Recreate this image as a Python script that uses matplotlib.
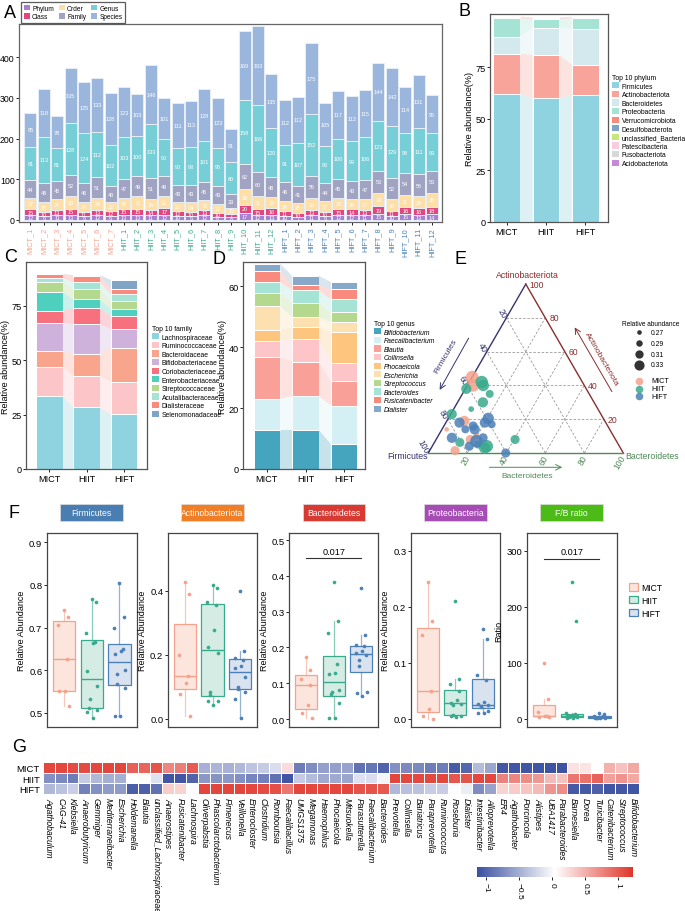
import numpy as np
import matplotlib
matplotlib.use('Agg')
import matplotlib.pyplot as plt
from matplotlib.patches import Patch, Rectangle
from matplotlib.colors import LinearSegmentedColormap, Normalize
from matplotlib.cm import ScalarMappable
from matplotlib.ticker import FormatStrFormatter

plt.rcParams['font.family'] = ['Liberation Sans', 'DejaVu Sans']
plt.rcParams['axes.linewidth'] = 0.8
plt.rcParams['xtick.major.width'] = 0.6
plt.rcParams['ytick.major.width'] = 0.6
plt.rcParams['xtick.major.size'] = 2
plt.rcParams['ytick.major.size'] = 2
plt.rcParams['xtick.major.pad'] = 1.5
plt.rcParams['ytick.major.pad'] = 1.2

W, H = 685, 912

def rect(x0, y0, x1, y1):
    return [x0 / W, 1 - y1 / H, (x1 - x0) / W, (y1 - y0) / H]

groups = ['MICT', 'HIIT', 'HIFT']
grp_cols = ['#F4A28C', '#3AAA8C', '#4B80B8']
grp_fill = ['#FCE5DD', '#D5ECE5', '#D9E3F0']

# ---------------- A: taxa counts per sample ----------------
samples = ['MICT_1', 'MICT_2', 'MICT_3', 'MICT_4', 'MICT_5', 'MICT_6', 'MICT_7',
           'HIIT_1', 'HIIT_2', 'HIIT_3', 'HIIT_4', 'HIIT_5', 'HIIT_6', 'HIIT_7', 'HIIT_8',
           'HIIT_9', 'HIIT_10', 'HIIT_11', 'HIIT_12',
           'HIFT_1', 'HIFT_2', 'HIFT_3', 'HIFT_4', 'HIFT_5', 'HIFT_6', 'HIFT_7', 'HIFT_8',
           'HIFT_9', 'HIFT_10', 'HIFT_11', 'HIFT_12']
levels = ['Phylum', 'Class', 'Order', 'Family', 'Genus', 'Species']
phylum_n = [12, 9, 11, 13, 9, 12, 9, 13, 13, 11, 12, 10, 9, 12, 8, 8, 17, 12, 13,
            10, 7, 11, 9, 12, 12, 11, 15, 10, 15, 13, 14]
class_n = [15, 10, 13, 15, 11, 13, 12, 15, 15, 14, 17, 12, 10, 13, 10, 7, 20, 15, 16,
           11, 10, 13, 10, 15, 14, 13, 19, 11, 16, 16, 18]
order_n = [27, 25, 27, 30, 24, 29, 22, 26, 30, 26, 30, 22, 24, 23, 22, 15, 38, 31, 28,
           26, 25, 30, 27, 28, 26, 27, 33, 30, 31, 29, 35]
family_n = [44, 48, 45, 52, 46, 51, 40, 47, 49, 51, 49, 43, 43, 45, 43, 33, 62, 60, 48,
            46, 41, 55, 44, 45, 43, 47, 53, 52, 54, 56, 53]
genus_n = [81, 113, 81, 128, 124, 112, 102, 103, 100, 133, 90, 90, 93, 101, 95, 80, 158, 166, 120,
           91, 107, 152, 93, 100, 99, 106, 123, 129, 98, 111, 93]
species_n = [85, 118, 78, 135, 125, 133, 128, 123, 103, 146, 101, 111, 113, 128, 123, 81, 169, 193, 135,
             112, 112, 175, 105, 117, 112, 115, 144, 142, 114, 131, 95]
level_cols = ['#A97FD3', '#E2467E', '#FDDFA7', '#A0A3C2', '#76CFD6', '#9BB6DD']

# ---------------- B: phylum ----------------
phyla = ['Firmicutes', 'Actinobacteriota', 'Bacteroidetes', 'Proteobacteria', 'Verrucomicrobiota',
         'Desulfobacterota', 'unclassified_Bacteria', 'Patescibacteria', 'Fusobacteriota', 'Acidobacteriota']
phy_mict = [62.3, 19.4, 8.3, 8.9, 0.4, 0.2, 0.1, 0.1, 0.05, 0.02]
phy_hiit = [59.9, 21.2, 13.2, 4.1, 0.5, 0.2, 0.1, 0.1, 0.05, 0.02]
phy_hift = [61.7, 14.7, 17.5, 5.0, 0.2, 0.3, 0.1, 0.1, 0.05, 0.02]
phy_cols = ['#8FD3E0', '#F9A49A', '#D3E9EE', '#A5E3D5', '#F98A7E', '#7FA5C6', '#C8E67C',
            '#F9CDE0', '#D8D8D8', '#C48AD6']

# ---------------- C: family ----------------
families = ['Lachnospiraceae', 'Ruminococcaceae', 'Bacteroidaceae', 'Bifidobacteriaceae', 'Coriobacteriaceae',
            'Enterobacteriaceae', 'Streptococcaceae', 'Acutalibacteraceae', 'Dialisteraceae', 'Selenomonadaceae']
fam_mict = [33.4, 13.6, 7.0, 13.2, 5.5, 8.7, 4.6, 1.6, 1.9, 0.1]
fam_hiit = [28.3, 14.3, 10.4, 13.4, 7.4, 4.0, 4.6, 3.3, 3.1, 0.1]
fam_hift = [25.1, 15.0, 15.6, 8.6, 5.8, 3.4, 3.6, 3.1, 2.5, 4.1]
fam_cols = ['#8FD3E0', '#FCC5C8', '#F9A48C', '#CFB2DC', '#F7707E', '#4FCFBE', '#B5D88F',
            '#A5E3D5', '#F98A7E', '#7FA5C6']

# ---------------- D: genus ----------------
genera = ['Bifidobacterium', 'Faecalibacterium', 'Blautia', 'Collinsella', 'Phocaeicola',
          'Escherichia', 'Streptococcus', 'Bacteroides', 'Fusicatenibacter', 'Dialister']
gen_mict = [12.8, 10.2, 13.7, 5.5, 3.6, 7.7, 4.4, 3.5, 3.8, 2.2]
gen_hiit = [12.8, 11.1, 11.4, 7.5, 3.7, 3.4, 4.6, 4.2, 1.6, 3.1]
gen_hift = [8.2, 12.6, 8.0, 5.9, 10.4, 3.1, 3.3, 4.2, 3.3, 2.5]
gen_cols = ['#45A5BF', '#D4F0F5', '#F9A099', '#FDC5C8', '#FDC57E', '#FDE0B0', '#B5D88F',
            '#A5E3D5', '#F98A7E', '#86A9C9']

# ---------------- E: ternary (Actinobacteriota %, Bacteroidetes %) ----------------
tern_mict_a = [45, 40, 19, 8, 10, 1.4, 14]
tern_mict_b = [0, 3, 9, 17.5, 19.5, 13, 2.4]
tern_mict_s = [0.33, 0.33, 0.31, 0.30, 0.27, 0.30, 0.26]
tern_hiit_a = [42, 40, 38, 30, 26, 4, 3, 8, 23, 6.3, 35, 5]
tern_hiit_b = [6.4, 8.2, 0.5, 13, 9, 28, 27.4, 40.5, 0.5, 13, 14, 23]
tern_hiit_s = [0.33, 0.32, 0.31, 0.31, 0.27, 0.33, 0.32, 0.30, 0.31, 0.30, 0.29, 0.29]
tern_hift_a = [20.5, 18, 14, 16, 9, 7, 0, 18, 9, 14, 17, 4]
tern_hift_b = [20.5, 20, 16.8, 15, 23.6, 21.2, 39.7, 7, 7.6, 12, 24, 19]
tern_hift_s = [0.32, 0.31, 0.31, 0.30, 0.30, 0.33, 0.30, 0.31, 0.31, 0.29, 0.29, 0.30]

# ---------------- F: boxplots ----------------
firm = [[0.74, 0.725, 0.705, 0.627, 0.55, 0.55, 0.517],
        [0.767, 0.76, 0.687, 0.665, 0.663, 0.597, 0.563, 0.533, 0.512, 0.507, 0.503, 0.487],
        [0.805, 0.725, 0.70, 0.65, 0.645, 0.638, 0.60, 0.59, 0.568, 0.557, 0.493, 0.493]]
actino = [[0.426, 0.39, 0.20, 0.135, 0.112, 0.078, 0.008],
          [0.418, 0.407, 0.364, 0.355, 0.277, 0.225, 0.207, 0.085, 0.075, 0.057, 0.056, 0.042],
          [0.40, 0.213, 0.19, 0.185, 0.165, 0.16, 0.13, 0.10, 0.095, 0.085, 0.063, 0.003]]
bacter = [[0.173, 0.136, 0.112, 0.095, 0.039, 0.016, 0.003],
          [0.383, 0.273, 0.24, 0.155, 0.128, 0.125, 0.08, 0.075, 0.07, 0.045, 0.003, 0.003],
          [0.367, 0.234, 0.206, 0.203, 0.189, 0.185, 0.178, 0.164, 0.148, 0.077, 0.072, 0.064]]
proteo = [[0.244, 0.175, 0.15, 0.0505, 0.018, 0.005, 0.0],
          [0.211, 0.071, 0.062, 0.049, 0.034, 0.029, 0.027, 0.024, 0.007, 0.006, 0.005, 0.004],
          [0.16, 0.143, 0.078, 0.07, 0.030, 0.026, 0.024, 0.023, 0.021, 0.014, 0.011, 0.010]]
fb_ratio = [[100, 36, 12, 6, 5, 4, 3],
            [245, 174, 10, 8, 7, 6, 5, 5, 4, 3, 2, 1],
            [10, 8, 6, 5, 4, 3, 3, 2, 2, 2, 1, 1]]

# ---------------- G: heatmap ----------------
hm_genera = ['Agathobaculum', 'CAG-41', 'Klebsiella', 'Anaerobutyricum', 'Gemmiger', 'Mediterraneibacter',
             'Escherichia', 'Holdemanella', 'Blautia', 'unclassified_Lachnospiraceae', 'Anaerostipes',
             'Fusicatenibacter', 'Lachnospira', 'Oliverpabstia', 'Phascolarctobacterium', 'Fimenecus',
             'Veillonella', 'Enterocloster', 'Clostridium', 'Romboutsia', 'Faecalibacillus', 'UMGS1375',
             'Megamonas', 'Haemophilus', 'Phocaeicola', 'Mitsuokella', 'Parasutterella', 'Faecalibacterium',
             'Bacteroides', 'Prevotella', 'Collinsella', 'Bariatricus', 'Paraprevotella', 'Ruminococcus',
             'Roseburia', 'Dialister', 'Intestinibacter', 'Alloprevotella', 'ER4', 'Agathobacter',
             'Porcincola', 'Alistipes', 'UBA1417', 'Parabacteroides', 'Barnesiella', 'Dorea',
             'Turicibacter', 'Catenibacterium', 'Streptococcus', 'Bifidobacterium']
hm_mict = [1.12, 1.12, 1.10, 1.10, 1.12, 1.13, 1.13, 0.98, 0.95, 1.05, 0.75, 0.80, 1.00,
           -0.48, -0.45, -0.48, -0.43, -0.35, -0.30, -0.18, 0.25, -0.83, -0.72, -0.60, -0.60,
           -0.58, -0.90, -0.88, -1.00, -0.70, -0.75, -0.75, -0.83, -0.83, -1.05, -0.98, -0.40,
           -0.55, -1.08, -1.10, -1.10, -1.10, -1.12, -1.12, 0.22, 0.20, 0.05, 0.50, 0.40, 0.55]
hm_hiit = [-0.70, -0.75, -0.83, -0.30, -0.42, -0.50, -0.50, 0.05, 0.07, -0.15, -1.10, -1.10, -1.00,
           -0.65, -0.68, -0.65, -0.70, -0.77, -0.80, -0.90, -1.10, -0.30, -0.40, -0.52, -0.52,
           -0.55, -0.15, -0.18, -0.02, 1.13, 1.13, 1.12, 1.12, 1.12, 1.03, 1.05, 1.13,
           1.12, 0.78, 0.75, 0.72, 0.65, 0.45, 0.40, 0.85, 0.87, 0.97, 0.60, 0.68, 0.55]
hm_hift = [-0.42, -0.37, -0.27, -0.80, -0.70, -0.63, -0.63, -1.03, -1.02, -0.90, 0.35, 0.30, 0.02,
           1.13, 1.13, 1.13, 1.13, 1.12, 1.10, 1.08, 0.85, 1.13, 1.12, 1.12, 1.12,
           1.13, 1.05, 1.06, 1.02, -0.43, -0.38, -0.37, -0.29, -0.29, 0.02, -0.07, -0.73,
           -0.57, 0.30, 0.35, 0.38, 0.45, 0.67, 0.72, -1.07, -1.07, -1.02, -1.10, -1.08, -1.10]

fig = plt.figure(figsize=(W / 100, H / 100), dpi=100)

def letter(x, y, s):
    fig.text(x / W, 1 - y / H, s, fontsize=13, va='center', ha='left')

def frame(ax, col='#555555'):
    for sp in ax.spines.values():
        sp.set_color(col)
        sp.set_linewidth(0.9)

# ===== A =====
axA = fig.add_axes(rect(19, 25, 442, 223))
xa = np.arange(len(samples))
bottom = np.zeros(len(samples))
for vals, col in zip([phylum_n, class_n, order_n, family_n, genus_n, species_n], level_cols):
    vals = np.array(vals, dtype=float)
    axA.bar(xa, vals, bottom=bottom, width=0.9, color=col, edgecolor='#E6EDF5', linewidth=0.7)
    for x, v, b in zip(xa, vals, bottom):
        axA.text(x, b + v / 2, '%d' % v, ha='center', va='center', fontsize=4.0, color='white')
    bottom += vals
axA.set_xlim(-0.85, 30.75)
axA.set_ylim(-5, 482)
axA.set_yticks([0, 100, 200, 300, 400])
axA.tick_params(axis='y', labelsize=6.3)
axA.set_xticks(xa)
axA.set_xticklabels(samples, rotation=90, fontsize=5.3)
for lab in axA.get_xticklabels():
    lab.set_color(grp_cols[groups.index(lab.get_text().split('_')[0])])
frame(axA, '#666666')
lgA = fig.legend([Patch(facecolor=c) for c in level_cols], levels, ncol=3, loc='upper left',
                 bbox_to_anchor=(18 / W, 1.0), fontsize=4.7, handlelength=0.9, handleheight=0.9,
                 columnspacing=0.8, handletextpad=0.35, borderpad=0.4, labelspacing=0.2,
                 fancybox=False, edgecolor='#333333')
lgA.get_frame().set_linewidth(0.9)
letter(4, 13, 'A')

# ===== alluvial stacked bars (B, C, D) =====
def alluvial(ax, data, colors, width):
    data = np.array(data, dtype=float).T  # layers x groups
    cum = np.vstack([np.zeros(data.shape[1]), np.cumsum(data, axis=0)])
    xs = np.arange(data.shape[1])
    for k in range(data.shape[0]):
        ax.bar(xs, data[k], bottom=cum[k], width=width, color=colors[k], edgecolor='white', linewidth=0.7)
        for i in range(len(xs) - 1):
            px = [i + width / 2, i + 1 - width / 2, i + 1 - width / 2, i + width / 2]
            py = [cum[k, i], cum[k, i + 1], cum[k + 1, i + 1], cum[k + 1, i]]
            ax.fill(px, py, color=colors[k], alpha=0.3, linewidth=0)
    ax.set_xticks(xs)
    ax.set_xticklabels(groups, fontsize=6.6)
    ax.tick_params(axis='y', labelsize=6.6)
    ax.set_ylabel('Relative abundance(%)', fontsize=6.5, labelpad=0.8)
    frame(ax)

def side_legend(labels, colors, title, x, y, italic=False):
    lg = fig.legend([Patch(facecolor=c) for c in colors], labels, title=title, loc='upper left',
                    bbox_to_anchor=(x / W, 1 - y / H), frameon=False, fontsize=4.9, title_fontsize=4.9,
                    handlelength=1.0, handleheight=1.0, handletextpad=0.4, labelspacing=0.18,
                    borderpad=0, borderaxespad=0)
    lg._legend_box.align = 'left'
    if italic:
        for t in lg.get_texts():
            t.set_style('italic')

axB = fig.add_axes(rect(490, 15, 608, 223))
alluvial(axB, [phy_mict, phy_hiit, phy_hift], phy_cols, 0.68)
axB.set_xlim(-0.425, 2.578)
axB.set_ylim(-0.2, 101)
axB.set_yticks([0, 25, 50, 75])
side_legend(phyla, phy_cols, 'Top 10 phylum', 612, 75)
letter(458, 12, 'B')

axC = fig.add_axes(rect(26, 263, 147, 470))
alluvial(axC, [fam_mict, fam_hiit, fam_hift], fam_cols, 0.71)
axC.set_xlim(-0.62, 2.61)
axC.set_ylim(0, 95)
axC.set_yticks([0, 25, 50, 75])
side_legend(families, fam_cols, 'Top 10 family', 152, 326)
letter(4, 258, 'C')

axD = fig.add_axes(rect(243, 263, 365, 470))
alluvial(axD, [gen_mict, gen_hiit, gen_hift], gen_cols, 0.69)
axD.set_xlim(-0.62, 2.54)
axD.set_ylim(0, 68)
axD.set_yticks([0, 20, 40, 60])
side_legend(genera, gen_cols, 'Top 10 genus', 374, 321, italic=True)
letter(213, 260, 'D')

# ===== E: ternary =====
axE = fig.add_axes(rect(395, 265, 685, 490))
axE.set_xlim((395 - 428.3) / 195, (685 - 428.3) / 195)
axE.set_ylim((454 - 490) / 195, (454 - 265) / 195)
axE.set_aspect('equal')
axE.axis('off')
hh = np.sqrt(3) / 2
navy, maroon, green = '#35346F', '#8A2E2E', '#4F8A57'

def tern(a, b):
    a = np.asarray(a, dtype=float)
    b = np.asarray(b, dtype=float)
    return b + a / 2, a * hh

for v in [0.2, 0.4, 0.6, 0.8]:
    for (a0, b0), (a1, b1) in [((v, 0), (v, 1 - v)), ((0, v), (1 - v, v)), ((0, 1 - v), (1 - v, 0))]:
        p0, p1 = tern(a0, b0), tern(a1, b1)
        axE.plot([p0[0], p1[0]], [p0[1], p1[1]], color='#9A9A9A', lw=0.6, ls=(0, (3, 2)))
axE.plot([0, 0.5], [0, hh], color=navy, lw=1.0)
axE.plot([0.5, 1], [hh, 0], color=maroon, lw=1.0)
axE.plot([0, 1], [0, 0], color=green, lw=1.0)

for v in [20, 40, 60, 80, 100]:
    f = v / 100
    # Actinobacteriota ticks on right edge
    x, y = tern(f, 1 - f)
    axE.text(x + 0.02, y, str(v), color=maroon, fontsize=6.2, ha='left', va='center')
    # Firmicutes ticks on left edge
    x, y = tern(1 - f, 0)
    axE.text(x - 0.01, y + 0.005, str(v), color=navy, fontsize=6.2, ha='right', va='center',
             rotation=-60, rotation_mode='anchor')
    # Bacteroidetes ticks on bottom
    x, y = tern(0, f)
    axE.text(x + 0.003, y - 0.012, str(v), color=green, fontsize=6.2, ha='right', va='center',
             rotation=60, rotation_mode='anchor')

def ep(px, py):
    return (px - 428.3) / 195, (454 - py) / 195

axE.text(*ep(527, 276), 'Actinobacteriota', color=maroon, fontsize=6.3, ha='center', va='center')
axE.text(*ep(408, 457), 'Firmicutes', color=navy, fontsize=6.3, ha='center', va='center')
axE.text(*ep(652, 457), 'Bacteroidetes', color=green, fontsize=6.3, ha='center', va='center')
axE.annotate('', xy=ep(438.3, 393.3), xytext=ep(470, 336.7),
             arrowprops=dict(arrowstyle='->', color=navy, lw=0.7))
axE.text(*ep(446, 357), 'Firmicutes', color=navy, fontsize=6, ha='center', va='center', rotation=60)
axE.annotate('', xy=ep(573.3, 326), xytext=ep(613.3, 395),
             arrowprops=dict(arrowstyle='->', color=maroon, lw=0.7))
axE.text(*ep(601, 360), 'Actinobacteriota', color=maroon, fontsize=6, ha='center', va='center', rotation=-60)
axE.annotate('', xy=ep(565, 468.3), xytext=ep(486.7, 468.3),
             arrowprops=dict(arrowstyle='->', color=green, lw=0.7))
axE.text(*ep(526.7, 476.5), 'Bacteroidetes', color=green, fontsize=6, ha='center', va='center')

def msize(s):
    d = 5 + (np.asarray(s) - 0.27) / 0.06 * 6
    return (d * 0.72) ** 2

for a, b, s, col in [(tern_mict_a, tern_mict_b, tern_mict_s, grp_cols[0]),
                     (tern_hiit_a, tern_hiit_b, tern_hiit_s, grp_cols[1]),
                     (tern_hift_a, tern_hift_b, tern_hift_s, grp_cols[2])]:
    x, y = tern(np.array(a) / 100, np.array(b) / 100)
    axE.scatter(x, y, s=msize(s) * 1.3, color=col, alpha=0.85, linewidths=0, zorder=3)

axE.text(*ep(622, 325), 'Relative abundance', fontsize=4.7, ha='left', va='center')
for sv, py in zip([0.27, 0.29, 0.31, 0.33], [333.3, 344.3, 355.3, 366]):
    axE.scatter(*ep(639, py), s=msize(sv) * 0.85, color='#333333', linewidths=0)
    axE.text(*ep(651, py), '%.2f' % sv, fontsize=4.9, ha='left', va='center')
for g, col, py in zip(groups, grp_cols, [381.7, 389.5, 397.3]):
    axE.scatter(*ep(639, py), s=30, color=col, alpha=0.85, linewidths=0)
    axE.text(*ep(651, py), g, fontsize=5.2, ha='left', va='center')
letter(455, 260, 'E')

# ===== F: boxplots =====
f_x = [(46.7, 136.7), (167.7, 257.3), (289.3, 378.3), (410.7, 500), (526.7, 616.7)]
f_titles = ['Firmicutes', 'Actinobacteriota', 'Bacteroidetes', 'Proteobacteria', 'F/B ratio']
f_head = ['#4A7DB2', '#F07E26', '#D63A33', '#A54DB5', '#4CBB17']
f_data = [firm, actino, bacter, proteo, fb_ratio]
f_ylim = [(0.466, 0.921), (-0.026, 0.579), (-0.023, 0.519), (-0.015, 0.331), (-15, 331)]
f_ticks = [[0.5, 0.6, 0.7, 0.8, 0.9], [0.0, 0.2, 0.4], [0.0, 0.1, 0.2, 0.3, 0.4, 0.5],
           [0.0, 0.1, 0.2, 0.3], [0, 100, 200, 300]]
f_ylab = ['Relative Abundance'] * 4 + ['Ratio']

for i, (x0, x1) in enumerate(f_x):
    ax = fig.add_axes(rect(x0, 534.3, x1, 728.3))
    bp = ax.boxplot(f_data[i], positions=[0, 1, 2], widths=0.8, patch_artist=True,
                    showfliers=False, showcaps=False)
    for j in range(3):
        bp['boxes'][j].set(facecolor=grp_fill[j], edgecolor=grp_cols[j], linewidth=0.9)
        bp['medians'][j].set(color=grp_cols[j], linewidth=1.0)
        for w in bp['whiskers'][2 * j:2 * j + 2]:
            w.set(color=grp_cols[j], linewidth=0.9, alpha=0.6)
        vals = np.array(f_data[i][j])
        jit = 0.2 * np.sin(np.arange(len(vals)) * 2.3)
        ax.scatter(j + jit, vals, s=7, color=grp_cols[j], zorder=3, linewidths=0)
    ax.set_xlim(-0.62, 2.62)
    ax.set_ylim(*f_ylim[i])
    ax.set_yticks(f_ticks[i])
    ax.yaxis.set_major_formatter(FormatStrFormatter('%d' if i == 4 else '%.1f'))
    ax.set_xticks([])
    ax.tick_params(axis='y', labelsize=6.8)
    ax.set_ylabel(f_ylab[i], fontsize=6.5, labelpad=2)
    frame(ax, '#444444')
    if i == 2:
        ax.plot([0, 2], [0.449, 0.449], color='#333333', lw=0.8)
        ax.text(1, 0.456, '0.017', ha='center', va='bottom', fontsize=6.6)
    if i == 4:
        ax.plot([0, 2], [285, 285], color='#333333', lw=0.8)
        ax.text(1, 291, '0.017', ha='center', va='bottom', fontsize=6.6)
    cx = (x0 + x1) / 2
    fig.add_artist(Rectangle(((cx - 31.3) / W, 1 - 521.7 / H), 62.6 / W, 16.7 / H,
                             transform=fig.transFigure, facecolor=f_head[i], edgecolor='#DDDDDD', lw=0.5))
    fig.text(cx / W, 1 - 513.3 / H, f_titles[i], color='white', fontsize=6.2, ha='center', va='center')

fig.legend([Patch(facecolor=grp_fill[j], edgecolor=grp_cols[j], linewidth=0.9) for j in range(3)], groups,
           loc='upper left', bbox_to_anchor=(629 / W, 1 - 584 / H), frameon=False, fontsize=6.2,
           handlelength=1.1, handleheight=0.9, handletextpad=0.3, labelspacing=0.45,
           borderpad=0, borderaxespad=0)
letter(8, 513, 'F')

# ===== G: heatmap =====
axG = fig.add_axes(rect(42.7, 763.3, 639, 795))
cmap = LinearSegmentedColormap.from_list('bwr2', ['#3A4FA0', '#FFFFFF', '#E0362B'])
norm = Normalize(vmin=-1.14, vmax=1.23)
mat = np.array([hm_mict, hm_hiit, hm_hift])
axG.pcolormesh(mat, cmap=cmap, norm=norm, edgecolors='white', linewidth=0.6)
axG.set_xlim(0, mat.shape[1])
axG.set_ylim(3, 0)
axG.set_yticks([0.5, 1.5, 2.5])
axG.set_yticklabels(groups, fontsize=6.8)
axG.set_xticks(np.arange(mat.shape[1]) + 0.5)
axG.set_xticklabels(hm_genera, rotation=-90, fontsize=6.2, style='italic', ha='center', va='top')
axG.tick_params(length=0, pad=2)
for sp in axG.spines.values():
    sp.set_visible(False)

cax = fig.add_axes(rect(476.7, 867.7, 632.7, 877.7))
cb = fig.colorbar(ScalarMappable(norm=norm, cmap=cmap), cax=cax, orientation='horizontal')
cb.set_ticks([-1, -0.5, 0, 0.5, 1])
cb.set_ticklabels(['\u22121', '\u22120.5', '0', '0.5', '1'])
cax.tick_params(labelsize=6, rotation=-90, length=2)
cb.outline.set_visible(False)
letter(12, 748, 'G')

fig.savefig('out.png', dpi=100)
